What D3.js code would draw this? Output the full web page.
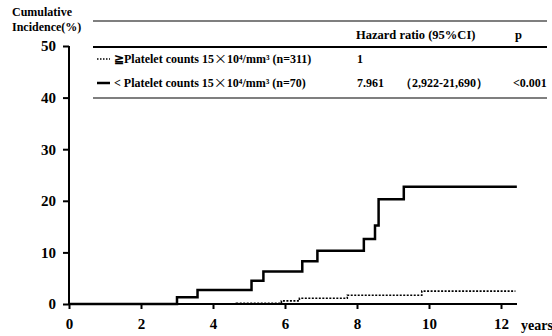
<!DOCTYPE html>
<html><head><meta charset="utf-8">
<script src="https://cdn.jsdelivr.net/npm/d3@7"></script>
<style>body{margin:0;background:#fff}svg{display:block}text{font-family:"Liberation Serif","Times New Roman",serif;fill:#000}.cjk{font-family:"Noto Sans CJK JP",sans-serif;font-weight:normal}</style>
</head><body><svg id="c" width="552" height="336"></svg>
<script>
const xTicks = [0, 2, 4, 6, 8, 10, 12];
const yTicks = [0, 10, 20, 30, 40, 50];
// step curves: [time (years), cumulative incidence (%)]
const lowTimes = [0, 3.0, 3.57, 5.07, 5.4, 6.48, 6.9, 8.19, 8.5, 8.6, 9.3, 12.44];
const lowValues = [0, 1.3, 2.7, 4.5, 6.3, 8.3, 10.3, 12.6, 15.2, 20.3, 22.7, 22.7];
const highTimes = [0, 4.65, 5.9, 6.4, 7.73, 9.8, 12.4];
const highValues = [0, 0.15, 0.6, 1.1, 1.7, 2.5, 2.5];
const tableHeader = ["Hazard ratio (95%CI)", "p"];
const rowPrefix = ["\u2267Platelet counts 15", "< Platelet counts 15"];
const rowSuffix = ["10\u2074/mm\u00B3 (n=311)", "10\u2074/mm\u00B3 (n=70)"];
const hrValues = ["1", "7.961"];
const ciValues = ["", "\uFF082,922-21,690\uFF09"];
const pValues = ["", "<0.001"];

const svg = d3.select("#c");
const x = d3.scaleLinear().domain([0, 12]).range([69, 501]);
const y = d3.scaleLinear().domain([0, 50]).range([304, 46]);

// axes
const gx = svg.append("g").attr("transform", "translate(0,304)")
  .call(d3.axisBottom(x).tickValues(xTicks).tickSize(5).tickPadding(9).tickFormat(d3.format("d")));
gx.select(".domain").attr("d", `M${x(0)},0H517`).attr("stroke-width", 2);
gx.selectAll(".tick line").attr("stroke-width", 2);
gx.selectAll("text").style("font-size", "15px").style("font-weight", "bold").style("font-family", '"Liberation Serif",serif');

const gy = svg.append("g").attr("transform", `translate(${x(0)},0)`)
  .call(d3.axisLeft(y).tickValues(yTicks).tickSize(6).tickPadding(7));
gy.select(".domain").attr("d", `M0,${y(50)}V${y(0)}`).attr("stroke-width", 2);
gy.selectAll(".tick line").attr("stroke-width", 2);
gy.selectAll("text").style("font-size", "15px").style("font-weight", "bold").style("font-family", '"Liberation Serif",serif');

svg.append("text").attr("x", 12).attr("y", 16).style("font-size", "12px").style("font-weight", "bold").text("Cumulative");
svg.append("text").attr("x", 12).attr("y", 31).style("font-size", "12px").style("font-weight", "bold").text("Incidence(%)");
svg.append("text").attr("x", 521).attr("y", 330).style("font-size", "14px").style("font-weight", "bold").text("years");

// curves
const line = d3.line().x(d => x(d[0])).y(d => y(d[1])).curve(d3.curveStepAfter);
svg.append("path").datum(highTimes.map((t, i) => [t, highValues[i]]))
  .attr("d", line).attr("fill", "none").attr("stroke", "#000").attr("stroke-width", 1.6).attr("stroke-dasharray", "2,1.5");
svg.append("path").datum(lowTimes.map((t, i) => [t, lowValues[i]]))
  .attr("d", line).attr("fill", "none").attr("stroke", "#000").attr("stroke-width", 2.5);

// table
const tl = 93, tr = 547;
svg.append("line").attr("x1", tl).attr("x2", tr).attr("y1", 21).attr("y2", 21).attr("stroke", "#000").attr("stroke-width", 1.2);
svg.append("line").attr("x1", tl).attr("x2", tr).attr("y1", 47).attr("y2", 47).attr("stroke", "#000").attr("stroke-width", 1.8);
svg.append("line").attr("x1", tl).attr("x2", tr).attr("y1", 98).attr("y2", 98).attr("stroke", "#000").attr("stroke-width", 1.2);
svg.append("text").attr("x", 356).attr("y", 39).style("font-size", "12.5px").style("font-weight", "bold").text(tableHeader[0]);
svg.append("text").attr("x", 515).attr("y", 39).style("font-size", "12.5px").style("font-weight", "bold").text(tableHeader[1]);
const rowY = [63, 87];
rowY.forEach((ry, i) => {
  svg.append("line").attr("x1", 97).attr("x2", 110).attr("y1", ry - 4).attr("y2", ry - 4)
    .attr("stroke", "#000").attr("stroke-width", i === 0 ? 1.5 : 2.5).attr("stroke-dasharray", i === 0 ? "1.5,1.5" : null);
  const t = svg.append("text").attr("x", 114).attr("y", ry).style("font-size", "12px").style("font-weight", "bold");
  t.append("tspan").text(rowPrefix[i]);
  t.append("tspan").attr("class", "cjk").style("font-size", "13px").text("\u00D7");
  t.append("tspan").text(rowSuffix[i]);
  svg.append("text").attr("x", 357).attr("y", ry).style("font-size", "12px").style("font-weight", "bold").text(hrValues[i]);
  svg.append("text").attr("x", 400).attr("y", ry).style("font-size", "12px").style("font-weight", "bold").text(ciValues[i]);
  svg.append("text").attr("x", 513).attr("y", ry).style("font-size", "12px").style("font-weight", "bold").text(pValues[i]);
});
</script></body></html>
